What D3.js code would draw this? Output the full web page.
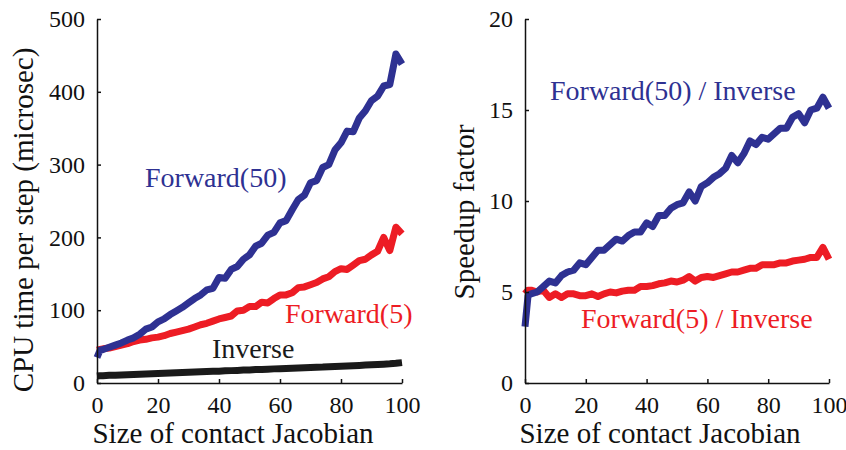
<!DOCTYPE html>
<html>
<head>
<meta charset="utf-8">
<script src="https://cdn.jsdelivr.net/npm/d3@7"></script>
<style>
  body { margin: 0; background: #fff; }
</style>
</head>
<body>
<script>
// size of contact Jacobian (shared x values)
var sizes = [0, 1, 2, 4, 6, 8, 10, 12, 14, 16, 18, 20, 22, 24, 26, 28, 30, 32, 34, 36, 38,
  40, 42, 44, 46, 48, 50, 52, 54, 56, 58, 60, 62, 64, 66, 68, 70, 72, 74, 76, 78,
  80, 82, 84, 86, 88, 90, 92, 94, 96, 98, 100];

// left panel: CPU time per step (microsec)
var forward50 = [35, 45, 46, 49, 52, 55, 59, 62, 67, 74, 77, 84, 88, 94, 99, 104, 110, 116, 121, 128, 130,
  145, 144, 156, 160, 170, 176, 188, 192, 203, 207, 220, 223, 238, 252, 258, 275, 278, 296, 300, 320,
  330, 346, 345, 364, 374, 388, 394, 408, 410, 452, 438];
var forward5 = [45, 46, 47, 48, 50, 52, 54, 57, 59, 60, 62, 63, 65, 68, 70, 72, 74, 77, 80, 82, 85,
  88, 90, 92, 99, 100, 105, 105, 111, 110, 116, 121, 121, 124, 131, 132, 135, 138, 143, 146, 153,
  157, 156, 162, 168, 170, 176, 181, 200, 182, 214, 205];
var inverse = [9.5, 10, 10, 10.5, 10.6, 11, 11.3, 11.6, 12, 12.3, 12.6, 13, 13.3, 13.6, 14, 14.3, 14.6, 15, 15.3, 15.7, 16,
  16.3, 16.7, 17, 17.3, 17.7, 18, 18.4, 18.7, 19, 19.4, 19.7, 20, 20.4, 20.7, 21, 21.4, 21.8, 22, 22.4, 22.8,
  23.1, 23.5, 23.8, 24.2, 24.6, 25, 25.4, 25.8, 26.3, 27, 28];

// right panel: speedup factor
var speedup50 = [3.1, 4.8, 4.9, 5.0, 5.3, 5.6, 5.5, 5.9, 6.1, 6.2, 6.6, 6.5, 6.9, 7.3, 7.3, 7.6, 7.9, 7.8, 8.1, 8.3, 8.3,
  8.8, 8.6, 9.2, 9.2, 9.6, 9.8, 9.9, 10.5, 10.0, 10.8, 11.0, 11.3, 11.5, 11.8, 12.5, 12.1, 12.6, 13.3, 13.1, 13.5,
  13.4, 13.7, 14.0, 14.0, 14.6, 14.8, 14.3, 15.0, 15.1, 15.7, 15.1];
var speedup5 = [4.9, 5.1, 5.1, 5.0, 5.1, 4.7, 4.9, 4.7, 4.9, 4.9, 4.8, 4.8, 4.9, 4.75, 4.9, 5.0, 4.95, 5.05, 5.1, 5.1, 5.3,
  5.3, 5.35, 5.45, 5.5, 5.6, 5.55, 5.65, 5.85, 5.6, 5.8, 5.85, 5.8, 5.9, 6.0, 6.1, 6.1, 6.2, 6.3, 6.3, 6.5,
  6.5, 6.5, 6.6, 6.6, 6.7, 6.75, 6.8, 6.9, 6.9, 7.45, 6.8];

var xTicks = [0, 20, 40, 60, 80, 100];
var leftTicks = [0, 100, 200, 300, 400, 500];
var rightTicks = [0, 5, 10, 15, 20];

var blue = "#2e3192", red = "#ed1c24", black = "#1a1a1a";
var serif = "Liberation Serif";

var svg = d3.select("body").append("svg")
    .attr("width", 846)
    .attr("height", 450)
    .attr("font-family", serif);

function panel(opts) {
  var x = d3.scaleLinear().domain([0, 100]).range([opts.x0, opts.x1]);
  var y = d3.scaleLinear().domain(opts.yDomain).range([383, 19]);

  var g = svg.append("g");

  // lines
  opts.series.forEach(function(s) {
    var line = d3.line()
        .x(function(d, i) { return x(sizes[i]); })
        .y(function(d) { return y(d); });
    g.append("path")
        .datum(s.values)
        .attr("fill", "none")
        .attr("stroke", s.color)
        .attr("stroke-width", 7)
        .attr("stroke-linejoin", "round")
        .attr("d", line);
  });

  // x axis
  var xa = g.append("g")
      .attr("transform", "translate(0,383)")
      .call(d3.axisBottom(x).tickValues(xTicks).tickSizeInner(-4).tickSizeOuter(0))
      .attr("font-family", serif)
      .attr("font-size", 24);
  xa.selectAll("text").attr("dy", null).attr("y", 30).attr("fill", "#111");

  // y axis
  var ya = g.append("g")
      .attr("transform", "translate(" + opts.x0 + ",0)")
      .call(d3.axisLeft(y).tickValues(opts.yTicks).tickSizeInner(-4).tickSizeOuter(0))
      .attr("font-family", serif)
      .attr("font-size", 24);
  ya.selectAll("text").attr("x", -12).attr("fill", "#111");

  g.selectAll(".domain").attr("stroke", "#111").attr("stroke-width", 1.5);
  g.selectAll(".tick line").attr("stroke", "#111").attr("stroke-width", 1.5);

  // axis titles
  g.append("text")
      .attr("x", opts.xTitleX)
      .attr("y", 443)
      .attr("text-anchor", "middle")
      .attr("font-family", serif)
      .attr("font-size", 29)
      .attr("fill", "#111")
      .text("Size of contact Jacobian");
  g.append("text")
      .attr("transform", "translate(" + opts.yTitleX + "," + opts.yTitleY + ") rotate(-90)")
      .attr("text-anchor", "middle")
      .attr("font-family", serif)
      .attr("font-size", 29)
      .attr("fill", "#111")
      .text(opts.yTitle);

  // series labels
  opts.labels.forEach(function(l) {
    g.append("text")
        .attr("x", l.x)
        .attr("y", l.y)
        .attr("font-family", serif)
        .attr("font-size", 28)
        .attr("fill", l.color)
        .text(l.text);
  });
}

panel({
  x0: 97, x1: 402,
  yDomain: [0, 500], yTicks: leftTicks,
  series: [
    {values: inverse, color: black},
    {values: forward5, color: red},
    {values: forward50, color: blue}
  ],
  xTitleX: 233,
  yTitle: "CPU time per step (microsec)", yTitleX: 33, yTitleY: 220,
  labels: [
    {text: "Forward(50)", x: 145, y: 187, color: blue},
    {text: "Forward(5)", x: 285, y: 323, color: red},
    {text: "Inverse", x: 212, y: 358, color: black}
  ]
});

panel({
  x0: 525, x1: 829,
  yDomain: [0, 20], yTicks: rightTicks,
  series: [
    {values: speedup5, color: red},
    {values: speedup50, color: blue}
  ],
  xTitleX: 660,
  yTitle: "Speedup factor", yTitleX: 474, yTitleY: 212,
  labels: [
    {text: "Forward(50) / Inverse", x: 550, y: 100, color: blue},
    {text: "Forward(5) / Inverse", x: 581, y: 328, color: red}
  ]
});
</script>
</body>
</html>
